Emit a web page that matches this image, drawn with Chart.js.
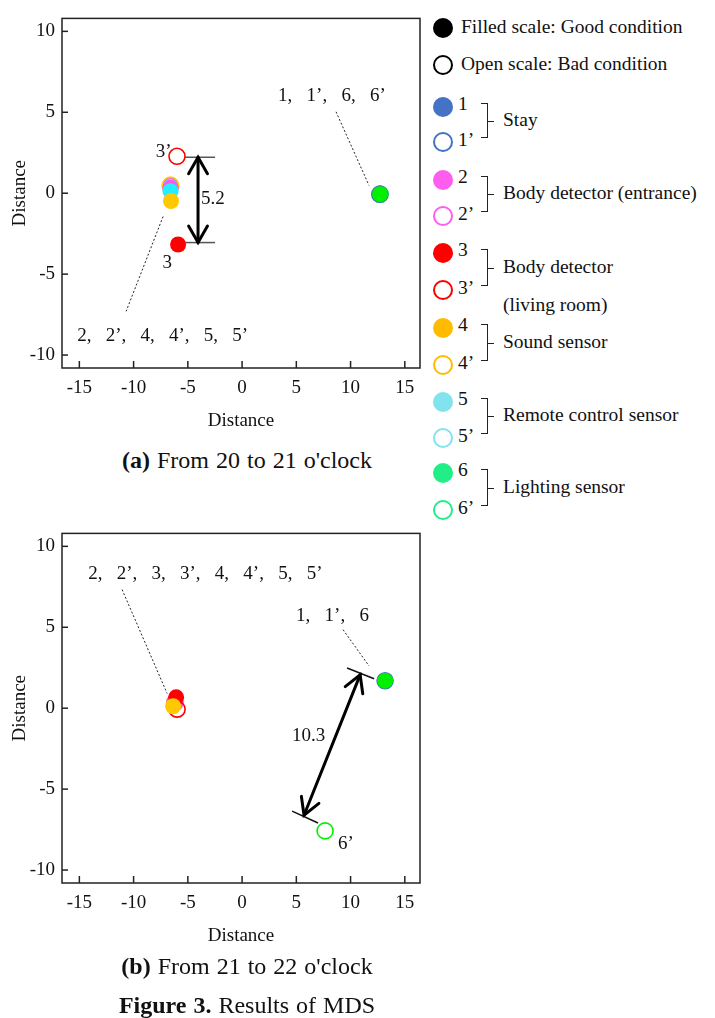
<!DOCTYPE html>
<html>
<head>
<meta charset="utf-8">
<script src="https://cdn.jsdelivr.net/npm/chart.js@4.4.1/dist/chart.umd.min.js"></script>
<style>
body { margin: 0; background: #fff; font-family: "Liberation Serif", "Times New Roman", serif; color: #111; }
#page { position: relative; width: 715px; height: 1018px; overflow: hidden; }
canvas { position: absolute; left: 0; }
.cap { position: absolute; left: 0; width: 494px; text-align: center; font-size: 24px; line-height: 26px; word-spacing: 1px; }
.lg { position: absolute; font-size: 19.5px; line-height: 22px; white-space: nowrap; }
.dot { position: absolute; width: 20px; height: 20px; border-radius: 50%; box-sizing: border-box; }
.br { position: absolute; border: 1.5px solid #222; border-left: none; width: 7px; box-sizing: border-box; }
.stub { position: absolute; border-top: 1.5px solid #222; width: 7px; }
</style>
</head>
<body>
<div id="page">
  <canvas id="chartA" width="430" height="440" style="top:0"></canvas>
  <canvas id="chartB" width="430" height="440" style="top:515px"></canvas>
  <div class="cap" style="top:447px"><b>(a)</b> From 20 to 21 o'clock</div>
  <div class="cap" style="top:953px"><b>(b)</b> From 21 to 22 o'clock</div>
  <div class="cap" style="top:992px"><b>Figure 3.</b> Results of MDS</div>
  <div id="legend"></div>
</div>
<script>
// sensors: plain number = filled (good condition), primed = open (bad condition)
const sensors = ['1', '1’', '2', '2’', '3', '3’', '4', '4’', '5', '5’', '6', '6’'];
const groups = ['Stay', 'Body detector (entrance)', 'Body detector', 'Sound sensor', 'Remote control sensor', 'Lighting sensor'];
const xTicks = [-15, -10, -5, 0, 5, 10, 15];
const yTicks = [-10, -5, 0, 5, 10];

// (a) 20 - 21 o'clock
const xA = [12.7, 12.7, -6.6, -6.6, -5.9, -6.0, -6.55, -6.6, -6.6, -6.6, 12.72, 12.72];
const yA = [-0.06, -0.06, 0.35, 0.45, -3.17, 2.28, -0.48, 0.5, 0.12, 0.4, -0.06, -0.06];

// (b) 21 - 22 o'clock
const xB = [13.18, 13.18, -6.2, -6.2, -6.08, -5.99, -6.36, -6.2, -6.2, -6.2, 13.18, 7.65];
const yB = [1.7, 1.7, 0.35, 0.35, 0.67, -0.06, 0.12, 0.35, 0.35, 0.35, 1.7, -7.58];

const plotColors = ['#4472c4', '#ff55ee', '#ff0000', '#ffc800', '#22eeff', '#00f000'];
const legendColors = ['#4472c4', '#ff5cf0', '#ff0000', '#ffbb00', '#80e3ee', '#22ee88'];

const serif = '"Liberation Serif", "Times New Roman", serif';
const tickFont = { family: serif, size: 19 };

function makeSets(xs, ys, top) {
    return sensors.map((s, i) => {
        const open = i % 2 === 1;
        const c = plotColors[Math.floor(i / 2)];
        return {
            label: s,
            data: [{ x: xs[i], y: ys[i] }],
            order: top.indexOf(i),
            pointRadius: 8,
            pointHoverRadius: 8,
            pointBackgroundColor: open ? 'rgba(255,255,255,0)' : c,
            pointBorderColor: c,
            pointBorderWidth: open ? 1.6 : 0
        };
    });
}

// frame, inward ticks and the hand-drawn notes, all placed through the scales
const notes = {
    id: 'notes',
    afterDatasetsDraw(chart, args, o) {
        const { ctx, chartArea: a, scales: { x, y } } = chart;
        const P = p => [x.getPixelForValue(p[0]), y.getPixelForValue(p[1])];
        ctx.save();
        ctx.strokeStyle = '#222';
        ctx.lineWidth = 1.5;
        ctx.strokeRect(a.left, a.top, a.right - a.left, a.bottom - a.top);
        x.ticks.forEach(t => {
            const px = x.getPixelForValue(t.value);
            ctx.beginPath(); ctx.moveTo(px, a.bottom); ctx.lineTo(px, a.bottom - 7); ctx.stroke();
        });
        y.ticks.forEach(t => {
            const py = y.getPixelForValue(t.value);
            ctx.beginPath(); ctx.moveTo(a.left, py); ctx.lineTo(a.left + 6, py); ctx.stroke();
        });

        ctx.lineWidth = 1;
        ctx.setLineDash([2, 2]);
        (o.dashes || []).forEach(d => {
            const p = P(d[0]), q = P(d[1]);
            ctx.beginPath(); ctx.moveTo(p[0], p[1]); ctx.lineTo(q[0], q[1]); ctx.stroke();
        });
        ctx.setLineDash([]);

        ctx.strokeStyle = o.lineColor || '#555';
        ctx.lineWidth = 1.5;
        (o.lines || []).forEach(d => {
            const p = P(d[0]), q = P(d[1]);
            ctx.beginPath(); ctx.moveTo(p[0], p[1]); ctx.lineTo(q[0], q[1]); ctx.stroke();
        });

        ctx.strokeStyle = '#000';
        ctx.lineWidth = 3;
        ctx.lineCap = 'round';
        (o.arrows || []).forEach(d => {
            const p = P(d[0]), q = P(d[1]);
            ctx.beginPath(); ctx.moveTo(p[0], p[1]); ctx.lineTo(q[0], q[1]); ctx.stroke();
            [[p, q], [q, p]].forEach(([tip, from]) => {
                const ang = Math.atan2(from[1] - tip[1], from[0] - tip[0]);
                ctx.beginPath();
                ctx.moveTo(tip[0] + 19 * Math.cos(ang + 0.52), tip[1] + 19 * Math.sin(ang + 0.52));
                ctx.lineTo(tip[0], tip[1]);
                ctx.lineTo(tip[0] + 19 * Math.cos(ang - 0.52), tip[1] + 19 * Math.sin(ang - 0.52));
                ctx.stroke();
            });
        });

        ctx.fillStyle = '#111';
        ctx.font = '19px ' + serif;
        ctx.textBaseline = 'middle';
        (o.texts || []).forEach(t => {
            const p = P(t.at);
            ctx.textAlign = t.align || 'left';
            ctx.fillText(t.text, p[0], p[1]);
        });
        ctx.restore();
    }
};

function makeChart(id, xs, ys, top, noteOpts, padTop) {
    return new Chart(document.getElementById(id), {
        type: 'scatter',
        data: { datasets: makeSets(xs, ys, top) },
        options: {
            responsive: false,
            animation: false,
            layout: { padding: { top: padTop, right: 10, left: 0, bottom: 0 } },
            plugins: { legend: { display: false }, tooltip: { enabled: false }, notes: noteOpts },
            scales: {
                x: {
                    type: 'linear', min: -16.6, max: 16.4,
                    afterBuildTicks: s => { s.ticks = xTicks.map(v => ({ value: v })); },
                    afterFit: s => { s.height = 72; },
                    grid: { display: false, drawTicks: false },
                    border: { display: false },
                    ticks: { color: '#111', font: tickFont, padding: 9, maxRotation: 0, autoSkip: false },
                    title: { display: true, text: 'Distance', color: '#111', font: tickFont, padding: { top: 8, bottom: 8 } }
                },
                y: {
                    type: 'linear', min: -10.8, max: 10.8,
                    afterBuildTicks: s => { s.ticks = yTicks.map(v => ({ value: v })); },
                    afterFit: s => { s.width = 62; },
                    grid: { display: false, drawTicks: false },
                    border: { display: false },
                    ticks: { color: '#111', font: tickFont, padding: 7, autoSkip: false },
                    title: { display: true, text: 'Distance', color: '#111', font: tickFont, padding: { top: 9, bottom: 8 } }
                }
            }
        },
        plugins: [notes]
    });
}

makeChart('chartA', xA, yA, [6, 8, 2, 7, 3, 9, 4, 5, 10, 0, 1, 11], {
    texts: [
        { text: '1,   1’,   6,   6’', at: [3.32, 6.0] },
        { text: '2,   2’,   4,   4’,   5,   5’', at: [-15.2, -8.8] },
        { text: '3’', at: [-6.5, 2.57], align: 'right' },
        { text: '3', at: [-6.9, -4.31], align: 'center' },
        { text: '5.2', at: [-3.78, -0.36] }
    ],
    dashes: [[[8.66, 5.03], [11.7, 0.48]], [[-7.28, -1.44], [-10.69, -7.3]]],
    lines: [[[-5.25, 2.22], [-2.49, 2.22]], [[-5.25, -3.05], [-2.49, -3.05]]],
    arrows: [[[-4.06, 2.22], [-4.06, -3.05]]]
}, 8);

makeChart('chartB', xB, yB, [6, 5, 4, 2, 3, 7, 8, 9, 10, 0, 1, 11], {
    texts: [
        { text: '2,   2’,   3,   3’,   4,   4’,   5,   5’', at: [-14.19, 8.3] },
        { text: '1,   1’,   6', at: [4.98, 5.7] },
        { text: '10.3', at: [4.61, -1.7] },
        { text: '6’', at: [8.85, -8.42] }
    ],
    dashes: [[[-11.06, 7.33], [-6.91, 0.91]], [[9.31, 4.85], [11.7, 2.61]]],
    lines: [[[9.68, 2.48], [12.17, 1.82]], [[4.61, -6.36], [7.0, -7.09]]],
    lineColor: '#111',
    arrows: [[[10.88, 2.06], [5.71, -6.61]]]
}, 12);

// legend (html)
const lg = document.getElementById('legend');
function dot(cx, cy, color, open) {
    const st = open ? `border:2.5px solid ${color}` : `background:${color}`;
    lg.insertAdjacentHTML('beforeend', `<div class="dot" style="left:${cx - 10}px;top:${cy - 10}px;${st}"></div>`);
}
function text(x, cy, t) {
    lg.insertAdjacentHTML('beforeend', `<div class="lg" style="left:${x}px;top:${cy - 12}px">${t}</div>`);
}
dot(443, 28, '#000', false);
text(461, 28, 'Filled scale: Good condition');
dot(443, 65, '#000', true);
text(461, 65, 'Open scale: Bad condition');

const rows = [[107, 142], [180, 216], [253, 290], [328, 365], [402, 438], [473, 510]];
groups.forEach((g, k) => {
    const [r1, r2] = rows[k];
    dot(443, r1, legendColors[k], false);
    dot(443, r2, legendColors[k], true);
    text(458, r1 - 2, sensors[2 * k]);
    text(458, r2 - 1, sensors[2 * k + 1]);
    const t = r1 - 4, b = r2 - 4;
    lg.insertAdjacentHTML('beforeend', `<div class="br" style="left:481px;top:${t}px;height:${b - t}px"></div>`);
    const mid = Math.round((t + b) / 2);
    lg.insertAdjacentHTML('beforeend', `<div class="stub" style="left:487px;top:${mid}px"></div>`);
    text(503, mid, g);
    if (k === 2) text(503, mid + 38, '(living room)');
});
</script>
</body>
</html>
